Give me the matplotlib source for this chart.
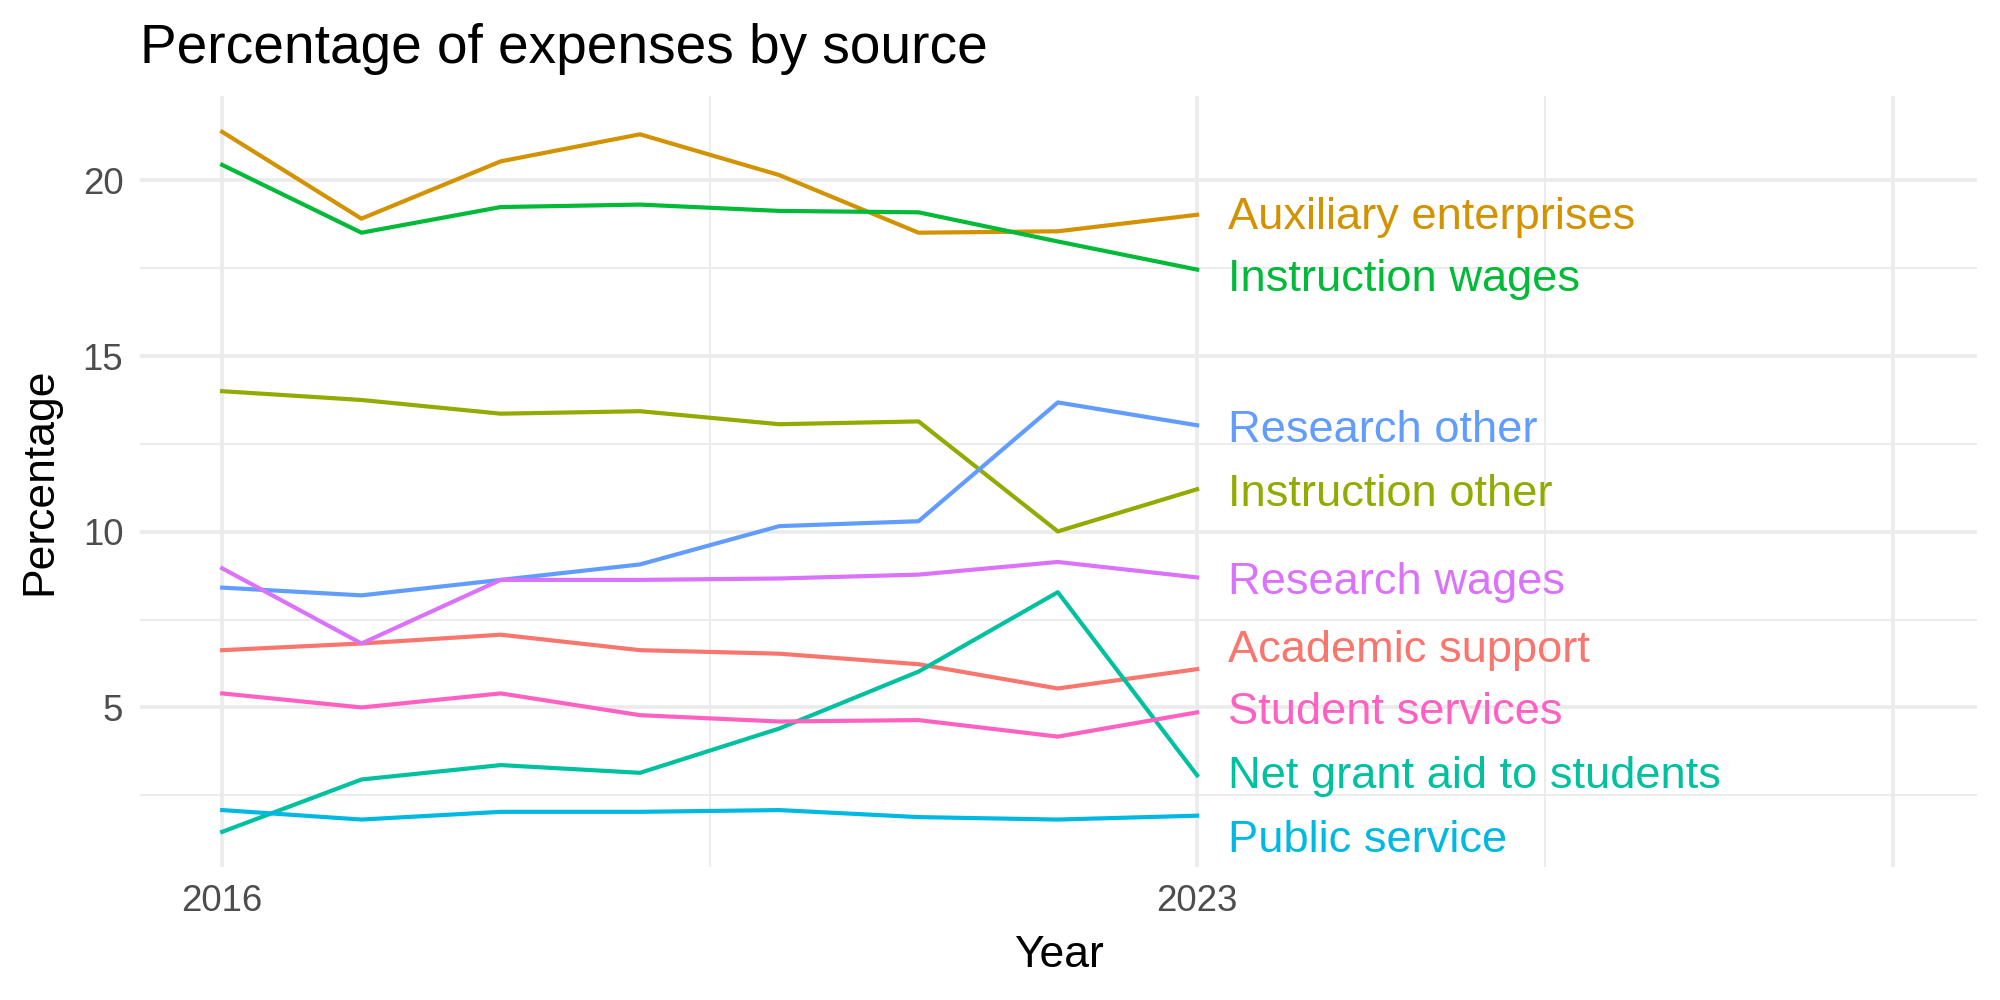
import numpy as np
import matplotlib
matplotlib.use("Agg")
from matplotlib import pyplot as plt

plt.rcParams['font.family'] = ['Liberation Sans', 'DejaVu Sans']

years = [2016, 2017, 2018, 2019, 2020, 2021, 2022, 2023]

series = [
    "Academic support",
    "Auxiliary enterprises",
    "Instruction other",
    "Instruction wages",
    "Net grant aid to students",
    "Public service",
    "Research other",
    "Research wages",
    "Student services",
]

academic_support = [6.63, 6.82, 7.07, 6.63, 6.53, 6.23, 5.54, 6.09]
auxiliary_enterprises = [21.38, 18.91, 20.54, 21.31, 20.15, 18.51, 18.55, 19.02]
instruction_other = [14.00, 13.75, 13.36, 13.43, 13.06, 13.14, 10.01, 11.21]
instruction_wages = [20.44, 18.51, 19.24, 19.31, 19.13, 19.09, 18.26, 17.46]
net_grant_aid = [1.46, 2.95, 3.36, 3.14, 4.40, 6.02, 8.28, 3.07]
public_service = [2.08, 1.81, 2.03, 2.03, 2.08, 1.88, 1.81, 1.92]
research_other = [8.41, 8.19, 8.63, 9.07, 10.16, 10.30, 13.68, 13.03]
research_wages = [8.96, 6.82, 8.63, 8.63, 8.67, 8.78, 9.14, 8.70]
student_services = [5.40, 5.00, 5.40, 4.78, 4.60, 4.64, 4.17, 4.86]

values = [academic_support, auxiliary_enterprises, instruction_other,
          instruction_wages, net_grant_aid, public_service,
          research_other, research_wages, student_services]

# ggplot hue palette
colors = ["#F8766D", "#D39200", "#93AA00", "#00BA38", "#00C19F",
          "#00B9E3", "#619CFF", "#DB72FB", "#FF61C3"]

# label baselines after repel
label_y = [6.30, 18.62, 10.72, 16.84, 2.70, 0.90, 12.56, 8.24, 4.52]

fig = plt.figure(figsize=(10, 5), dpi=200)
ax = fig.add_axes([0.07, 0.133, 0.9185, 0.771])

grid = "#EBEBEB"
for yv in [5, 10, 15, 20]:
    ax.axhline(yv, color=grid, lw=1.3, zorder=0)
for yv in [2.5, 7.5, 12.5, 17.5]:
    ax.axhline(yv, color=grid, lw=0.65, zorder=0)
for xv in [2016, 2023, 2028]:
    ax.axvline(xv, color=grid, lw=1.3, zorder=0)
for xv in [2019.5, 2025.5]:
    ax.axvline(xv, color=grid, lw=0.65, zorder=0)

for name, vals, c, ly in zip(series, values, colors, label_y):
    ax.plot(years, vals, color=c, lw=1.5, zorder=2)
    ax.annotate(name, xy=(years[-1], ly), xytext=(11, 0),
                textcoords='offset points', color=c, fontsize=16.3,
                va='baseline', ha='left')

ax.set_xlim(2015.41, 2028.6)
ax.set_ylim(0.46, 22.4)
ax.set_xticks([2016, 2023])
ax.set_yticks([5, 10, 15, 20])
ax.tick_params(length=0, labelsize=13.2, labelcolor="#4D4D4D", pad=6)
for s in ax.spines.values():
    s.set_visible(False)

ax.set_xlabel("Year", fontsize=16, labelpad=6)
ax.set_ylabel("Percentage", fontsize=16, labelpad=8)
ax.set_title("Percentage of expenses by source", loc='left', fontsize=19.8, pad=12)

fig.savefig("out.png", dpi=200, facecolor="white")
